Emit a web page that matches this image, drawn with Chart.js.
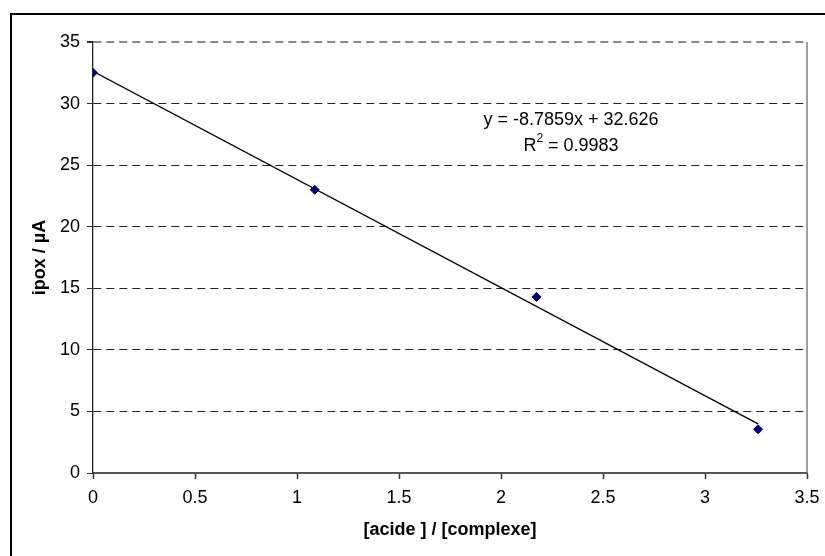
<!DOCTYPE html>
<html>
<head>
<meta charset="utf-8">
<script src="https://cdn.jsdelivr.net/npm/chart.js@4/dist/chart.umd.min.js"></script>
<style>
html,body{margin:0;padding:0;background:#fff;}
#wrap{width:825px;height:556px;position:relative;}
</style>
</head>
<body>
<div id="wrap"><canvas id="c" width="825" height="556"></canvas></div>
<script>
const ratioX = [0, 1.087, 2.174, 3.26];
const ipox = [32.5, 23.0, 14.3, 3.55];
const trendSlope = -8.7859;
const trendIntercept = 32.626;
const rSquared = 0.9983;
const xTitle = '[acide ] / [complexe]';
const yTitle = 'ipox / µA';

const points = ratioX.map((x, i) => ({x: x, y: ipox[i]}));
const xFirst = ratioX[0], xLast = ratioX[ratioX.length - 1];
const trend = [
  {x: xFirst, y: trendIntercept + trendSlope * xFirst},
  {x: xLast, y: trendIntercept + trendSlope * xLast}
];

const FONT = 'Liberation Sans, Arial, sans-serif';
const FS = 18;

const frame = {
  id: 'frame',
  afterDraw(chart) {
    const ctx = chart.ctx, a = chart.chartArea;
    ctx.save();
    ctx.strokeStyle = '#000';
    ctx.lineWidth = 2;
    ctx.strokeRect(11, 14, 830, 560);
    ctx.strokeStyle = '#808080';
    ctx.lineWidth = 1.5;
    ctx.beginPath();
    ctx.moveTo(a.right, a.top);
    ctx.lineTo(a.right, a.bottom);
    ctx.stroke();
    // equation label
    ctx.fillStyle = '#000';
    ctx.font = FS + 'px ' + FONT;
    ctx.textAlign = 'center';
    ctx.textBaseline = 'middle';
    const cx = 571;
    ctx.fillText('y = ' + trendSlope + 'x + ' + trendIntercept, cx, 120);
    const r1 = 'R', r2 = ' = ' + rSquared;
    ctx.textAlign = 'left';
    const w1 = ctx.measureText(r1).width;
    ctx.font = '12px ' + FONT;
    const ws = ctx.measureText('2').width;
    ctx.font = FS + 'px ' + FONT;
    const w2 = ctx.measureText(r2).width;
    let x0 = cx - (w1 + ws + w2) / 2;
    ctx.fillText(r1, x0, 146);
    ctx.font = '12px ' + FONT;
    ctx.fillText('2', x0 + w1, 139);
    ctx.font = FS + 'px ' + FONT;
    ctx.fillText(r2, x0 + w1 + ws, 146);
    ctx.restore();
  }
};

new Chart(document.getElementById('c'), {
  type: 'scatter',
  data: {
    datasets: [
      {
        type: 'line',
        data: trend,
        borderColor: '#000',
        borderWidth: 1.3,
        pointRadius: 0,
        fill: false,
        order: 2
      },
      {
        data: points,
        pointStyle: 'rectRot',
        pointRadius: 4.5,
        backgroundColor: '#000080',
        borderColor: '#000080',
        borderWidth: 1,
        order: 1
      }
    ]
  },
  options: {
    responsive: false,
    animation: false,
    layout: {padding: {left: 0, top: 42, right: 18, bottom: 0}},
    plugins: {legend: {display: false}, tooltip: {enabled: false}},
    scales: {
      x: {
        type: 'linear',
        min: 0, max: 3.5,
        afterFit(s) { s.height = 83; s.paddingRight = 0; s.paddingLeft = 0; },
        ticks: {
          stepSize: 0.5, color: '#000', font: {family: FONT, size: FS}, padding: 8, maxRotation: 0,
          callback: (v) => String(parseFloat(Number(v).toFixed(1)))
        },
        grid: {drawOnChartArea: false, drawTicks: true, tickLength: 6, tickColor: '#333', tickWidth: 1.5},
        border: {color: '#555', width: 2},
        title: {display: true, text: xTitle, color: '#000', font: {family: FONT, size: FS, weight: 'bold'}, padding: {bottom: 15}}
      },
      y: {
        min: 0, max: 35,
        afterFit(s) { s.width = 93; },
        ticks: {stepSize: 5, color: '#000', font: {family: FONT, size: FS}, padding: 7},
        grid: {
          color: (c) => c.tick && c.tick.value === 35 ? '#8a8a8a' : (c.tick && c.tick.value === 0 ? 'rgba(0,0,0,0)' : '#222'),
          lineWidth: (c) => c.tick && c.tick.value === 35 ? 2 : 1,
          tickBorderDash: [],
          tickColor: '#333',
          tickLength: 6
        },
        border: {color: '#222', width: 1.3, dash: [8, 5]},
        title: {display: true, text: yTitle, color: '#000', font: {family: FONT, size: FS, weight: 'bold'}, padding: {top: 29}}
      }
    }
  },
  plugins: [frame]
});
</script>
</body>
</html>
